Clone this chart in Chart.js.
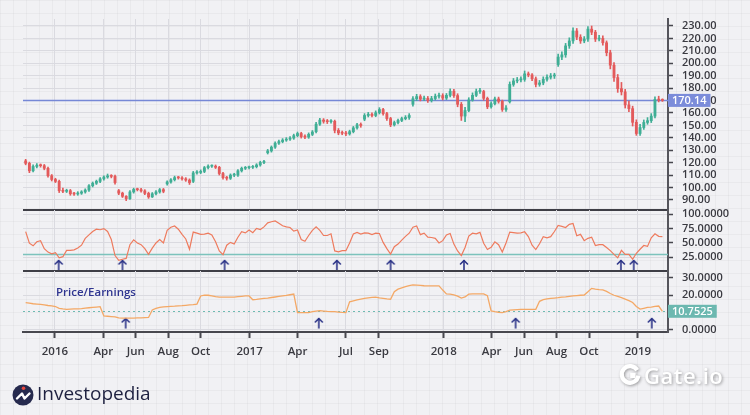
<!DOCTYPE html>
<html><head><meta charset="utf-8"><title>Price chart with oscillator and P/E</title>
<script src="https://cdn.jsdelivr.net/npm/chart.js@4.4.1/dist/chart.umd.min.js"></script>
<style>
html,body{margin:0;padding:0}
body{width:750px;height:415px;overflow:hidden;position:relative;background:#f1f1f4;
 background-image:linear-gradient(rgba(0,0,0,0.03) 1px,transparent 1px),linear-gradient(90deg,rgba(0,0,0,0.03) 1px,transparent 1px);
 background-size:13px 13px;}
canvas{position:absolute;left:0}
#pe{position:absolute;left:56px;top:285px;font:600 11.5px/14px 'Open Sans',sans-serif;color:#2f3590;white-space:nowrap}
#inv{position:absolute;left:9.5px;top:382px}
#invText{position:absolute;left:37px;top:384px;font:400 19px/19px 'Open Sans',sans-serif;color:#1e2140;white-space:nowrap}
#gate{position:absolute;left:618px;top:363px;display:flex;align-items:center;filter:drop-shadow(1px 1.5px 1.5px rgba(0,0,0,0.35))}
#gateText{font:600 22px/22px 'Open Sans',sans-serif;color:#fff;letter-spacing:0.5px;margin-left:2px}
</style></head>
<body>
<canvas id="c1" width="750" height="212" style="top:0"></canvas>
<canvas id="c2" width="750" height="80" style="top:200px"></canvas>
<canvas id="c3" width="750" height="109" style="top:261px"></canvas>
<div id="pe">Price/Earnings</div>
<svg id="inv" width="26" height="26" viewBox="0 0 26 26">
 <circle cx="13" cy="13" r="10.5" fill="#262a4e"/>
 <circle cx="13.5" cy="6.3" r="1.8" fill="#e8483f"/>
 <path d="M7 16.5 L12 11.5 L14.5 16.5 L19.5 11.5" stroke="#fff" stroke-width="2.4" fill="none" stroke-linecap="round" stroke-linejoin="round"/>
</svg>
<div id="invText">Investopedia</div>
<div id="gate">
 <svg width="24" height="24" viewBox="0 0 24 24">
  <path d="M19.2 7.2 A8.3 8.3 0 1 0 20.3 12.6" stroke="#fff" stroke-width="4.2" fill="none"/>
  <rect x="12.2" y="9.8" width="5.4" height="5.4" fill="#fff"/>
 </svg>
 <span id="gateText">Gate.io</span>
</div>
<script>
// ---------- DATA (weekly candles) ----------
const firstWeek = '2015-11-07';
const opens = [121.5,119.5,113.5,117,118,117.6,115.5,109.5,106.5,105,
97.5,97,97.5,95,94.8,95.5,96.5,98,101.5,103.5,
105,107,108.5,109.4,109,97.5,95.5,93,91,96.5,
98.5,98.3,97.3,95.3,92.5,95,96.5,98.3,103,104.5,
106.3,108,107.8,107,106,105,111.8,112.2,113,116,
117.2,117.2,116.3,111.3,108,107.5,110,110,113.5,115.5,
116,116.3,116.8,118.2,120.2,128,129.5,132.5,135.7,137,
138.2,139,139.8,141.8,143.5,141,140.6,142.8,145,151,
154.3,153.3,153,153.3,146,144,143.7,143.2,145,148,
150.5,155,158,159,158,160.2,162.8,159.5,155.5,150.5,
152.3,154,155.5,156.4,167,171.5,173.2,171.2,171.8,170,
171.6,173.5,174,172,174.2,177.5,174,167,157.5,162,
170.5,174.2,177.3,177.3,171.8,165,167.5,171.3,169.4,162.8,
169,183,185.8,186.6,187,191.5,190.6,187.5,183,184.2,
187.1,188.8,189.8,199,205,206.8,214,218,226,221,
218,219.5,227.5,225,219.5,220,216.5,208.5,198.5,188.5,
179.6,177,166.5,163.5,152.5,143.5,148.3,152.4,153.8,157.5,
171,170.4];
const highs = [122.7,120.5,118.2,119.2,119,118.6,116.5,110.5,107.5,106,
99.5,98.7,98.5,96.2,96.7,97.5,99,102.5,104.5,106,
108,109.5,110.9,110.4,110,98.5,96.3,93.5,97.5,99.5,
99.5,99.3,98.3,96.3,96,97.5,99.3,99.3,105.5,107.3,
109.2,109,108.8,108,107,113,113.7,114.2,117,118.2,
118.2,118.2,117.1,112.3,109,111,111.5,114.5,116.5,117,
117.3,117.8,119.2,121.2,122,130.7,133.5,136.7,138.2,139.4,
140.2,141,143,144.7,144.5,142.5,144,145.9,152.5,155.8,
155.5,154.8,154.8,154.3,147.5,145.5,145.2,146.2,149.2,151.7,
152,159.5,160.5,160.2,161.7,164.3,163.8,160.5,156.5,153.5,
155.2,156.7,157.9,159.5,173.3,175,174.7,173.6,173.3,173.4,
175.3,176,175.5,175.7,179.5,179,175.5,168.5,164.5,172.3,
176.2,179.3,179.8,178.3,172.8,169,172.8,172.8,170.4,166,
185,187.8,188.6,189,193.8,193,191.8,189,186.2,189.1,
190.8,191.8,192,207.5,209.3,216,220.5,228.5,228,223,
221.5,229.5,230,226.5,222.5,222,218,210.5,200.5,191,
184.6,179,169.5,165.5,154.5,150.8,154.4,156.3,159.5,173,
173.5,171.4];
const lows = [118.3,112,112.5,115.8,116.4,114.3,108.3,105.3,104,96,
95.8,96,93.8,93.6,93.8,94.5,95.5,97,100.5,102.5,
104,106,107.5,107.8,102.8,94.3,92,89.5,90.5,95.5,
97.3,96.3,94.3,91.3,92,94,95.5,95.8,102,103.5,
105.3,106.8,106,105,102.5,104,110.8,111.2,112,115,
116.2,115.3,110.1,106.8,106,106.5,108.8,109,112.5,114.5,
115,115.3,115.8,117.2,119.2,127,128.5,131.5,134.7,136,
137.2,138,138.8,140.8,139.8,139.4,139.6,141.8,144,150,
151.8,151.5,151.8,144,142.5,142.5,141.7,142.2,144,147,
148.5,153.8,156.8,156.8,157,159.2,158.3,154,149,149.5,
151.3,153,154.5,154.9,165.5,170,169.7,170,168.5,168.8,
170.4,172,170.5,170.8,173,172.5,165,154,153,161,
169.5,173.2,175.8,170.3,163.5,163.8,166.5,167.9,161.3,161.3,
168,181.5,184.3,185.1,185.5,189.1,186,181,181.5,182.7,
185.6,187.3,187.8,197.5,203,204.8,212,216,219,216,
216.5,217.5,223,217.5,218,214.5,206,195.5,185.5,176.6,
174.5,164,161,149.5,142,142,146.8,150.9,152.3,156,
168.9,169.3];
const closes = [119.5,113.5,117,118,117.6,115.5,109.5,106.5,105,97.5,
97,97.5,95,94.8,95.5,96.5,98,101.5,103.5,105,
107,108.5,109.4,109,104,95.5,93,91,96.5,98.5,
98.3,97.3,95.3,92.5,95,96.5,98.3,97,104.5,106.3,
108,107.8,107,106,104,111.8,112.2,113,116,117.2,
117.2,116.3,111.3,108,107.5,110,110,113.5,115.5,116,
116.3,116.8,118.2,120.2,121,129.5,132.5,135.7,137,138.2,
139,139.8,141.8,143.5,141,140.6,142.8,144.7,151,154.3,
153.3,153,153.3,146,144,143.7,143.2,145,148,150.5,
150,158,159,158,160.2,162.8,159.5,155.5,150.5,152.3,
154,155.5,156.4,158,171.5,173.2,171.2,171.8,170,171.6,
173.5,174,172,174.2,177.5,174,167,157.5,162,170.5,
174.2,177.3,177.3,171.8,165,167.5,171.3,169.4,162.8,164,
183,185.8,186.6,187,191.5,190.6,187.5,183,184.2,187.1,
188.8,189.8,190,205,206.8,214,218,226,221,218,
219.5,227.5,225,219.5,220,216.5,208.5,198.5,188.5,179.6,
177,166.5,163.5,152.5,143.5,148.3,152.4,153.8,157.5,171,
170.4,170.14];
const oscValues = [69.8,49.6,45,52,54,40,34,31,33,24,
26,37,37,38,41,46,58,64,70,74,
73,75,70,56,28,19.5,21.5,23,47,55.5,
50,47,40,30,41,50,56,50,72,77.5,
79.5,74,65,57,39,69,67,65,65.5,67,
64,52,36,29.5,46,51,48,60,69.5,67.5,
72.5,68,75.5,73.5,78,85,87,88.5,84.5,80,
78,77,70.5,72.5,56,53,63,72,78,72,
63,63,66,36,34.5,36.5,36.5,50,65.5,68.5,
65.5,67.5,67,64.5,67,66.5,51,40,30.5,43.5,
48,55,61.5,67,77.5,79.5,64.5,67,60,59.5,
58,50,54,64,66.5,48,36,28,42,62,
67,66,68.5,49.5,38.5,42.5,52,47,34,50,
69,68,67,67.5,69.5,61,46,38.5,48.5,61,
59,61,70,80.5,79,77,82.5,84,62.5,65,
54,58,60,45.5,47,47,42,36.5,30,24,
37,30,30,21.5,32,39,45.5,44,59,66,
61.5,61];
const peValues = [15.8,15.5,15.1,14.9,14.7,14.4,14.1,13.9,13.5,12.4,
12.1,11.9,12.0,12.1,12.2,12.3,12.6,12.8,13.0,13.2,
13.4,8.1,7.9,7.7,7.5,7.0,6.8,6.8,6.8,6.8,
6.9,7.0,7.1,7.2,11.5,12.4,13.0,13.3,13.5,13.6,
13.7,13.9,14.0,14.2,14.4,14.6,14.9,19.6,20.1,20.0,
19.6,19.2,18.9,18.9,18.9,18.9,18.9,19.2,19.4,19.6,
19.6,17.4,17.6,17.9,18.2,18.4,18.7,19.0,19.3,19.6,
19.9,20.3,20.7,10.0,10.0,10.0,10.0,10.5,10.9,11.1,
10.9,10.7,10.6,10.5,10.3,10.1,10.0,16.2,16.8,17.3,
17.8,18.2,18.5,18.8,18.9,18.5,18.2,17.9,17.7,22.0,
23.5,24.3,25.0,25.6,26.0,25.9,25.7,25.5,25.4,25.4,
25.4,25.4,23.0,20.8,20.6,20.2,19.5,18.4,19.0,20.6,
20.8,20.8,20.8,20.8,19.8,11.0,10.5,10.2,10.0,10.5,
11.4,11.6,11.7,11.8,11.9,11.9,11.9,11.9,16.5,17.5,
17.9,18.2,18.4,18.6,18.9,19.1,19.4,19.6,19.8,20.0,
20.1,22.0,24.0,23.6,23.3,23.1,22.2,21.0,20.0,19.3,
18.6,17.8,16.9,15.8,13.5,12.0,12.5,13.0,13.2,13.6,
13.8,10.7525];
const oscLevel = 30;
const oscSignalDates = ['2016-01-08','2016-05-07','2016-11-15','2017-06-14','2017-09-23','2018-02-08','2018-11-30','2018-12-24'];
const peSignalDates = ['2016-05-13','2017-05-11','2018-05-16','2019-01-27'];
const priceTicks = [90,100,110,120,130,140,150,160,170,180,190,200,210,220,230];
const oscTicks = [25,50,75,100];
const peTicks = [0,20,30];
const xTickDates = ['2016-01-01','2016-04-01','2016-06-01','2016-08-01','2016-10-01','2017-01-01','2017-04-01','2017-07-01','2017-09-01','2018-01-01','2018-04-01','2018-06-01','2018-08-01','2018-10-01','2019-01-01'];
const xTickLabels = ['2016','Apr','Jun','Aug','Oct','2017','Apr','Jul','Sep','2018','Apr','Jun','Aug','Oct','2019'];

// ---------- helpers ----------
function dayOf(s){ return (Date.parse(s+'T00:00:00Z') - Date.parse('2016-01-01T00:00:00Z'))/864e5; }
const weekDays = closes.map((_, i) => dayOf(firstWeek) + 7*i);
const xTickDays = xTickDates.map(dayOf);
const X_MIN = -60, X_MAX = 1152.5;
const UP = '#3fae95', DN = '#e35a5b';
const AXIS = '#47474e', GRID = '#dadae0', LABEL = '#3a3a41';
Chart.defaults.font.family = "'Open Sans', sans-serif";
Chart.defaults.color = LABEL;

function xScale(show){
  return {
    type:'linear', min:X_MIN, max:X_MAX, offset:false,
    afterBuildTicks: s => { s.ticks = xTickDays.map(v => ({value:v})); },
    afterFit: s => { s.height = show ? 38 : 0; s.paddingLeft = 0; s.paddingRight = 0; },
    grid:{color:GRID, lineWidth:1, offset:false, drawTicks:show, tickLength:6, tickColor:AXIS, tickWidth:2},
    border:{display:show, color:AXIS, width:2},
    ticks:{display:show, autoSkip:false, maxRotation:0, minRotation:0, padding:7, color:LABEL,
      font:{size:11.5, weight:'600'}, callback:(v, i) => xTickLabels[i]}
  };
}
function yScale(min, max, ticks, digits){
  return {
    position:'right', min, max,
    afterBuildTicks: s => { s.ticks = ticks.map(v => ({value:v})); },
    afterFit: s => { s.width = 82; s.paddingTop = 0; s.paddingBottom = 0; },
    grid:{color:GRID, lineWidth:1, tickLength:5, tickColor:AXIS, tickWidth:1.5},
    border:{color:'#55555c', width:2},
    ticks:{autoSkip:false, padding:9, color:LABEL, font:{size:11, weight:'600'}, callback: v => Number(v).toFixed(digits)}
  };
}
function arrowImage(){
  const c = document.createElement('canvas'); c.width = 10; c.height = 12;
  const g = c.getContext('2d');
  g.strokeStyle = '#2c3488'; g.lineWidth = 1.6; g.lineCap = 'round'; g.lineJoin = 'round';
  g.beginPath(); g.moveTo(5,1.5); g.lineTo(5,11); g.stroke();
  g.beginPath(); g.moveTo(1.5,5); g.lineTo(5,1.5); g.lineTo(8.5,5); g.stroke();
  return c;
}
const ARROW = arrowImage();
function separator(chart){
  const {ctx, chartArea:a} = chart;
  ctx.save(); ctx.strokeStyle = '#3e3e46'; ctx.lineWidth = 2;
  ctx.beginPath(); ctx.moveTo(a.left, a.bottom); ctx.lineTo(a.right, a.bottom); ctx.stroke();
  ctx.restore();
}
function valueTag(chart, value, text, color){
  const {ctx, chartArea:a, scales:{y}} = chart;
  const py = y.getPixelForValue(value);
  ctx.save();
  ctx.font = '600 11px "Open Sans", sans-serif';
  const w = ctx.measureText(text).width + 8;
  ctx.fillStyle = color; ctx.fillRect(a.right, py - 6.5, w, 13);
  ctx.fillStyle = '#ffffff'; ctx.textBaseline = 'middle'; ctx.textAlign = 'left';
  ctx.fillText(text, a.right + 4, py + 0.5);
  ctx.restore();
}
function hLine(chart, value, color, width, dash){
  const {ctx, chartArea:a, scales:{y}} = chart;
  const py = Math.round(y.getPixelForValue(value)) + 0.5;
  ctx.save(); ctx.strokeStyle = color; ctx.lineWidth = width; ctx.setLineDash(dash || []);
  ctx.beginPath(); ctx.moveTo(a.left, py); ctx.lineTo(a.right, py); ctx.stroke();
  ctx.restore();
}
const candleColor = ctx => (closes[ctx.dataIndex] >= opens[ctx.dataIndex] ? UP : DN);
const lastClose = closes[closes.length - 1];
const lastPE = peValues[peValues.length - 1];
const common = {responsive:false, animation:false, events:[], plugins:{legend:{display:false}, tooltip:{enabled:false}}};

// ---------- price panel ----------
new Chart(document.getElementById('c1'), {
  type:'bar',
  data:{datasets:[
    {data: weekDays.map((d,i) => ({x:d, y:[lows[i], highs[i]]})), backgroundColor:candleColor, barThickness:1, grouped:false, order:2},
    {data: weekDays.map((d,i) => ({x:d, y:[opens[i], closes[i]]})), backgroundColor:candleColor, barThickness:2.2, minBarLength:1, grouped:false, order:1}
  ]},
  options:{...common, layout:{padding:{left:23, top:19, right:0, bottom:2}},
    scales:{x:xScale(false), y:yScale(81.95, 235.63, priceTicks, 2)}},
  plugins:[{id:'p1',
    beforeDatasetsDraw(ch){ hLine(ch, lastClose, '#7688d6', 1.3); },
    afterDraw(ch){ separator(ch); valueTag(ch, lastClose, lastClose.toFixed(2), '#7b8cda'); }}]
});

// ---------- oscillator panel ----------
new Chart(document.getElementById('c2'), {
  type:'line',
  data:{datasets:[
    {data: weekDays.map((d,i) => ({x:d, y:oscValues[i]})), borderColor:'#ee7b5e', borderWidth:1.2, pointRadius:0, tension:0},
    {data: oscSignalDates.map(s => ({x:dayOf(s), y:11.5})), showLine:false, pointStyle:ARROW, pointRadius:5}
  ]},
  options:{...common, layout:{padding:{left:23, top:10, right:0, bottom:9}},
    scales:{x:xScale(false), y:yScale(1, 107.5, oscTicks, 4)}},
  plugins:[{id:'p2',
    beforeDatasetsDraw(ch){ hLine(ch, oscLevel, '#7cc3bc', 1.4); },
    afterDraw(ch){ separator(ch); }}]
});

// ---------- P/E panel ----------
new Chart(document.getElementById('c3'), {
  type:'line',
  data:{datasets:[
    {data: weekDays.map((d,i) => ({x:d, y:peValues[i]})), borderColor:'#f4a865', borderWidth:1.3, pointRadius:0, tension:0},
    {data: peSignalDates.map(s => ({x:dayOf(s), y:4})), showLine:false, pointStyle:ARROW, pointRadius:5}
  ]},
  options:{...common, layout:{padding:{left:23, top:10, right:0, bottom:0}},
    scales:{x:xScale(true), y:yScale(-1.2, 34, peTicks, 4)}},
  plugins:[{id:'p3',
    beforeDatasetsDraw(ch){ hLine(ch, lastPE, '#6fbab2', 1.2, [2,3]); },
    afterDraw(ch){ valueTag(ch, lastPE, lastPE.toFixed(4), '#6cb8b0'); }}]
});
</script>
</body></html>
